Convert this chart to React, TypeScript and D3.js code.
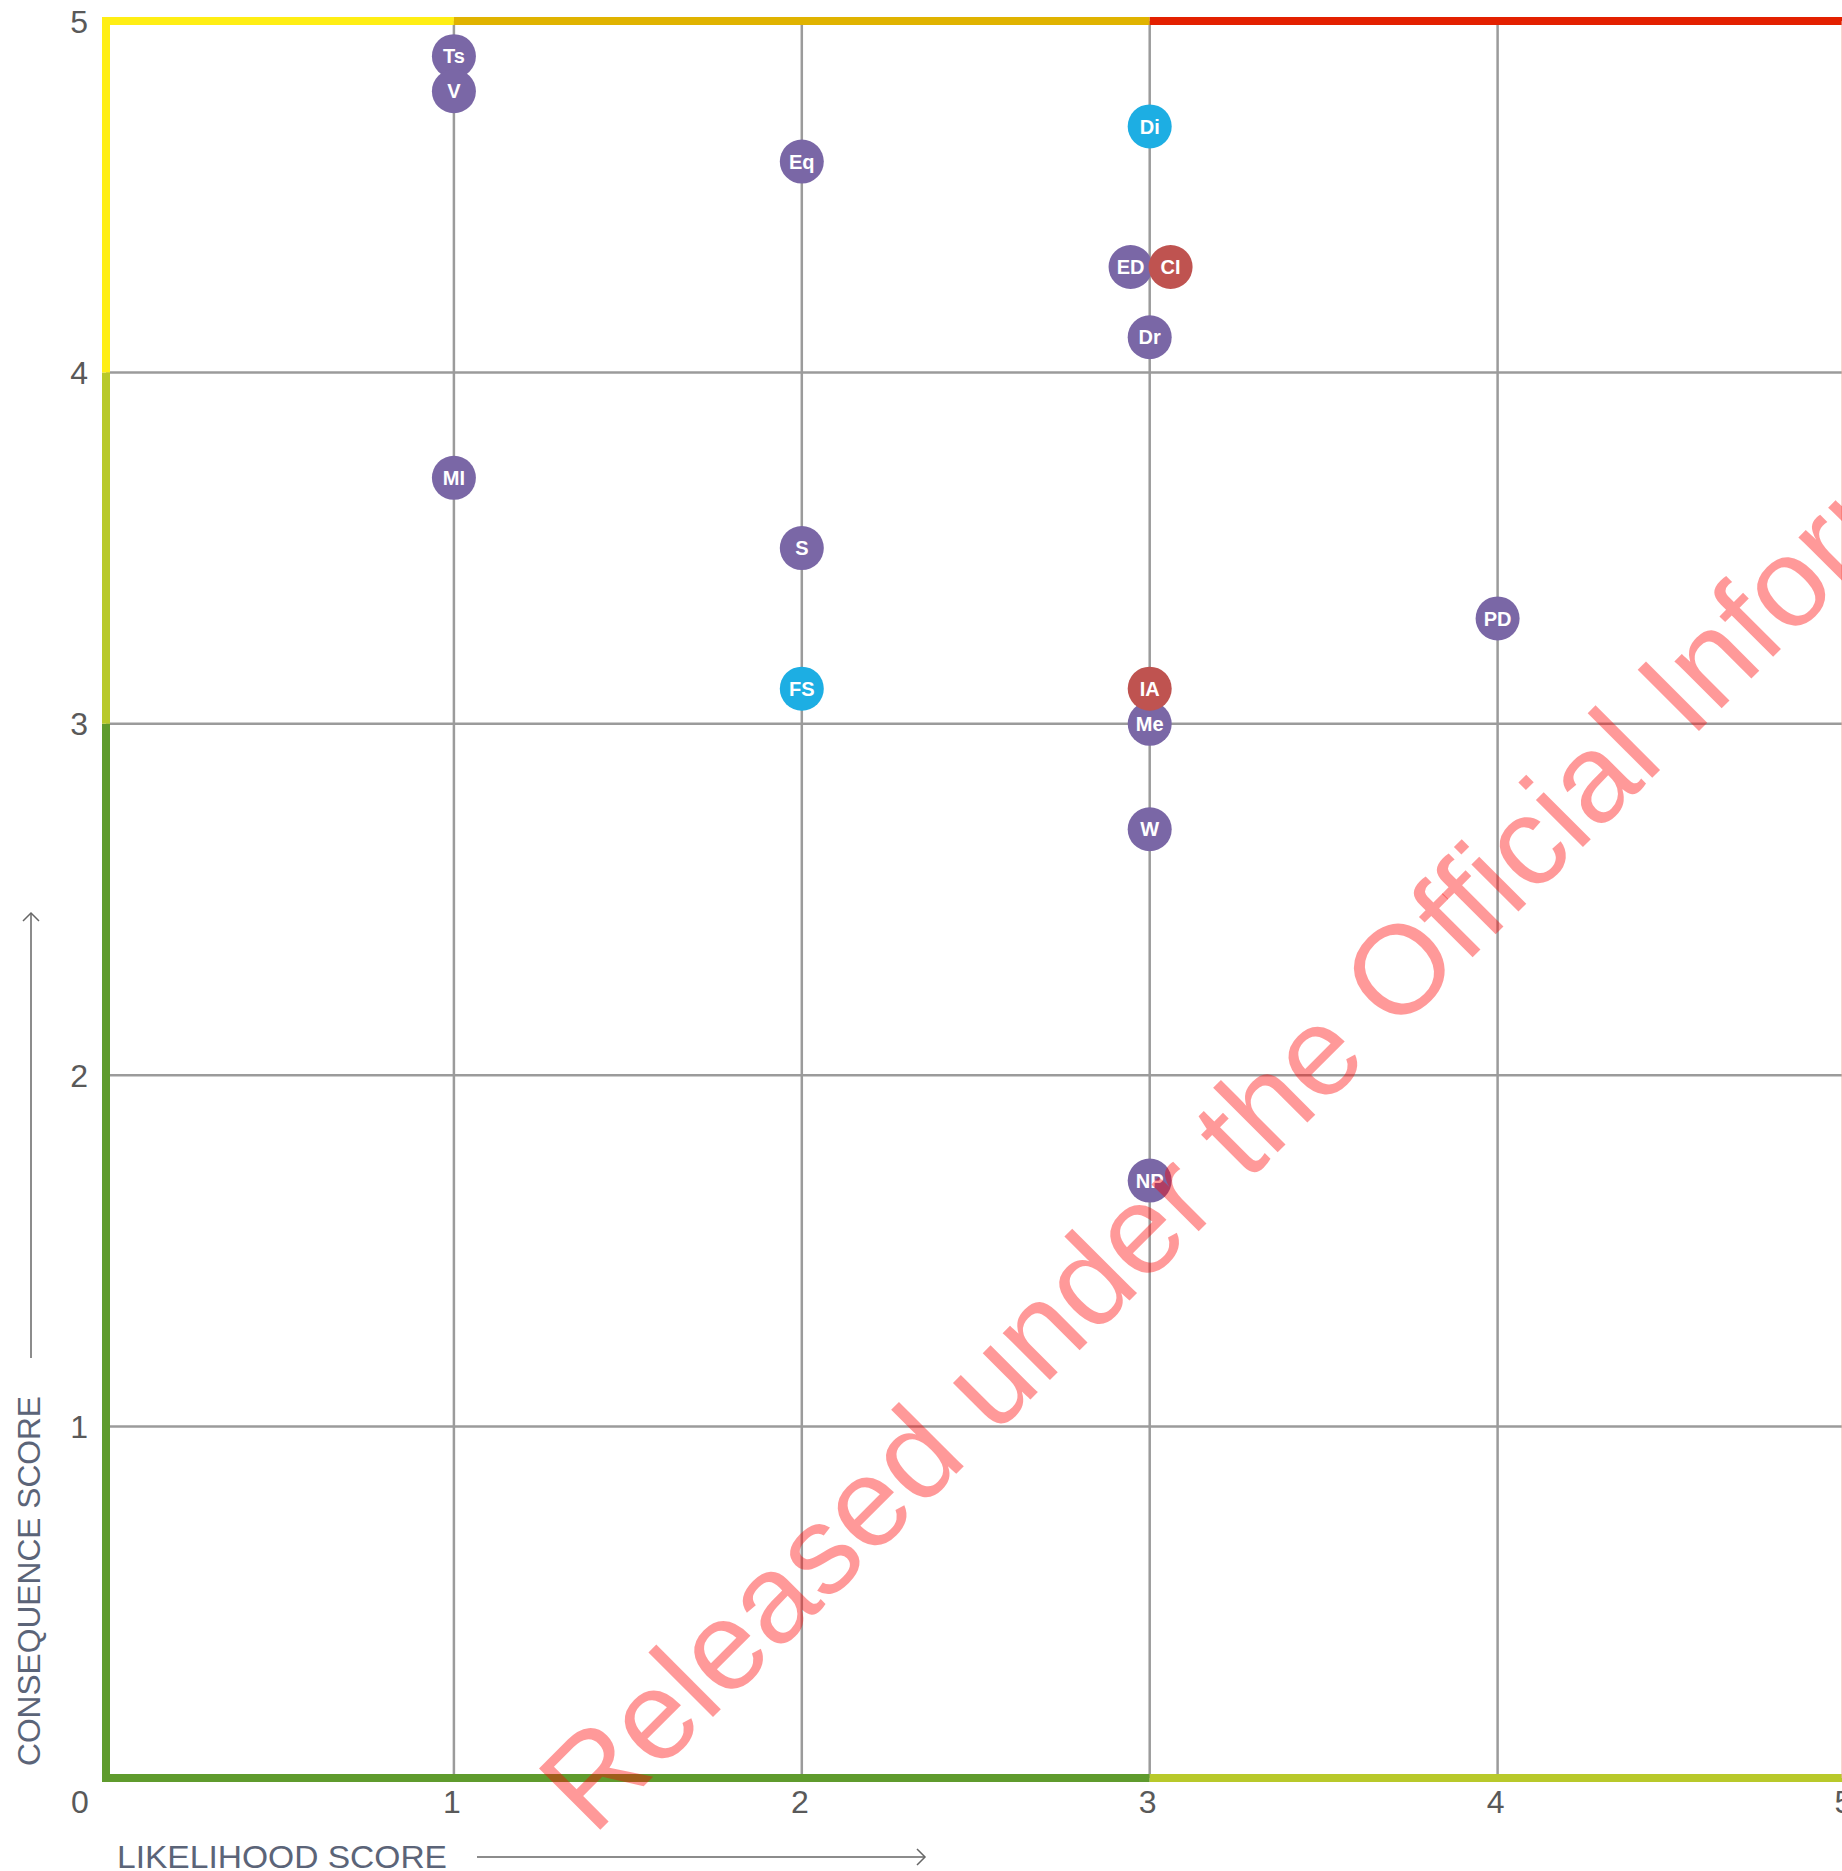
import React from 'react';
import * as d3 from 'd3';

// risk codes and their scores
const codes = ['Ts', 'V', 'Eq', 'Di', 'ED', 'CI', 'Dr', 'MI', 'S', 'PD', 'FS', 'Me', 'IA', 'W', 'NP'];
const likelihood = [1, 1, 2, 3, 2.945, 3.06, 3, 1, 2, 4, 2, 3, 3, 3, 3];
const consequence = [4.9, 4.8, 4.6, 4.7, 4.3, 4.3, 4.1, 3.7, 3.5, 3.3, 3.1, 3.0, 3.1, 2.7, 1.7];
const kinds = ['p', 'p', 'p', 'b', 'p', 'r', 'p', 'p', 'p', 'p', 'b', 'p', 'r', 'p', 'p'];

const ticks = [1, 2, 3, 4, 5];
const gridTicks = [1, 2, 3, 4];

// border bands: [from, to, colour]
const topBand: [number, number, string][] = [[0, 1, '#ffee14'], [1, 3, '#e0b300'], [3, 5, '#e32000']];
const bottomBand: [number, number, string][] = [[0, 3, '#5f9b2d'], [3, 5, '#b8c92a']];
const leftBand: [number, number, string][] = [[0, 3, '#5f9b2d'], [3, 4, '#b8c92a'], [4, 5, '#ffee14']];

const kindColor: Record<string, string> = { p: '#7a67a6', b: '#1daee3', r: '#bf5350' };

const W = 1842;
const H = 1871;

export default function App() {
  const x = d3.scaleLinear().domain([0, 5]).range([106, 1845.5]);
  const y = d3.scaleLinear().domain([0, 5]).range([1778, 21]);
  const bw = 8;
  const font = '"Liberation Sans", Arial, Helvetica, sans-serif';

  return (
    <svg width={W} height={H} style={{ position: 'absolute', top: 0, left: 0, background: '#fff' }}>
      <rect width={W} height={H} fill="#fff" />

      {/* grid */}
      {gridTicks.map(t => (
        <line key={'v' + t} x1={x(t)} x2={x(t)} y1={y(5)} y2={y(0)} stroke="#9b9b9b" strokeWidth={2.5} />
      ))}
      {gridTicks.map(t => (
        <line key={'h' + t} x1={x(0)} x2={x(5)} y1={y(t)} y2={y(t)} stroke="#9b9b9b" strokeWidth={2.5} />
      ))}

      {/* coloured border */}
      {topBand.map(([a, b, c]) => (
        <line key={'t' + a} x1={x(a) - (a === 0 ? bw / 2 : 0)} x2={x(b)} y1={y(5)} y2={y(5)} stroke={c} strokeWidth={bw} />
      ))}
      {leftBand.map(([a, b, c]) => (
        <line key={'l' + a} x1={x(0)} x2={x(0)} y1={y(a)} y2={y(b)} stroke={c} strokeWidth={bw} />
      ))}
      {bottomBand.map(([a, b, c]) => (
        <line key={'b' + a} x1={x(a) - (a === 0 ? bw / 2 : 0)} x2={x(b)} y1={y(0)} y2={y(0)} stroke={c} strokeWidth={bw} />
      ))}
      <line x1={x(5)} x2={x(5)} y1={y(5)} y2={y(0)} stroke="#f2b0a0" strokeWidth={bw} />

      {/* tick labels */}
      <g fontFamily={font} fontSize={32} fill="#595959">
        {ticks.map(t => (
          <text key={'yt' + t} x={88} y={y(t)} dy="0.36em" textAnchor="end">{t}</text>
        ))}
        {ticks.map(t => (
          <text key={'xt' + t} x={x(t) - 2} y={1813} textAnchor="middle">{t}</text>
        ))}
        <text x={80} y={1813} textAnchor="middle">0</text>
      </g>

      {/* axis titles */}
      <g fontFamily={font} fontSize={32} fill="#5b6478">
        <text x={117} y={1868} textLength={330} lengthAdjust="spacingAndGlyphs">LIKELIHOOD SCORE</text>
        <text transform="translate(40,1766) rotate(-90)" textLength={370} lengthAdjust="spacingAndGlyphs">CONSEQUENCE SCORE</text>
      </g>
      <g stroke="#666" strokeWidth={1.5} fill="none">
        <line x1={477} x2={925} y1={1857} y2={1857} />
        <path d="M917,1849 L925,1857 L917,1865" />
        <line x1={31} x2={31} y1={1358} y2={913} />
        <path d="M23,921 L31,913 L39,921" />
      </g>

      {/* risk points */}
      {codes.map((c, i) => (
        <g key={c} transform={`translate(${x(likelihood[i])},${y(consequence[i])})`}>
          <circle r={22} fill={kindColor[kinds[i]]} />
          <text textAnchor="middle" dy="0.36em" fill="#fff" fontFamily={font} fontWeight="bold" fontSize={20}>{c}</text>
        </g>
      ))}

      {/* watermark */}
      <text
        transform="translate(593,1837) rotate(-45)"
        fontFamily={font}
        fontSize={126}
        fill="#ff0000"
        fillOpacity={0.4}
      >
        Released under the Official Information Act 1982
      </text>
    </svg>
  );
}
